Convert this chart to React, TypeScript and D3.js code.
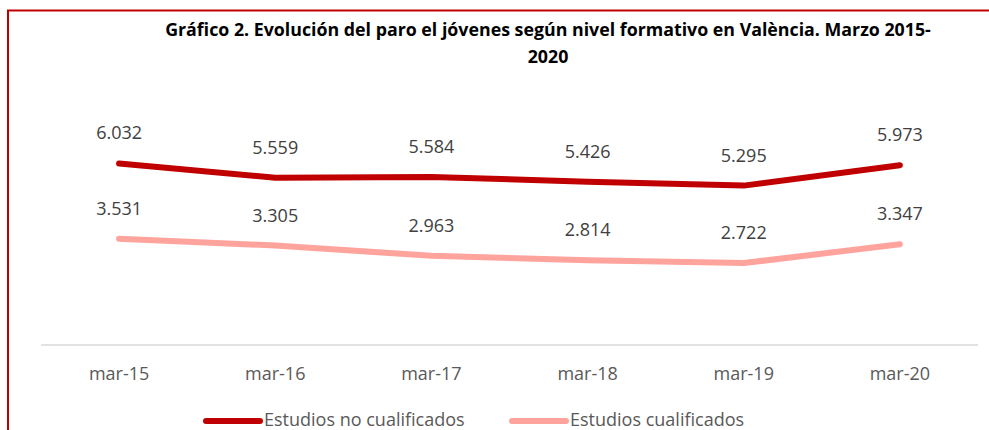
import React from "react";
import * as d3 from "d3";

const categories = ["mar-15", "mar-16", "mar-17", "mar-18", "mar-19", "mar-20"];
const noCualificados = [6032, 5559, 5584, 5426, 5295, 5973];
const cualificados = [3531, 3305, 2963, 2814, 2722, 3347];
const seriesNames = ["Estudios no cualificados", "Estudios cualificados"];
const titleLines = [
  "Gráfico 2. Evolución del paro el jóvenes según nivel formativo en València. Marzo 2015-",
  "2020",
];

const W = 989;
const H = 430;
const RED = "#C00000";
const PINK = "#FFA39D";
const FONT = "'Open Sans', sans-serif";

export default function App() {
  const x = d3.scaleBand<string>().domain(categories).range([41, 978]);
  const y = d3.scaleLinear().domain([0, 7000]).range([345, 134.3]);
  const cx = (c: string) => (x(c) as number) + x.bandwidth() / 2;
  const line = d3
    .line<number>()
    .x((_, i) => cx(categories[i]))
    .y((d) => y(d));

  const series = [
    { name: seriesNames[0], values: noCualificados, color: RED },
    { name: seriesNames[1], values: cualificados, color: PINK },
  ];
  const fmt = (v: number) => d3.format(",")(v).replace(/,/g, ".");

  const legendItems = [
    { x1: 206, x2: 260, tx: 264, color: RED, name: seriesNames[0] },
    { x1: 512, x2: 566, tx: 570, color: PINK, name: seriesNames[1] },
  ];

  return (
    <svg
      width={W}
      height={H}
      style={{ position: "absolute", left: 0, top: 0, background: "#fff" }}
    >
      <rect x={0} y={0} width={W} height={H} fill="#fff" />
      {/* border */}
      <line x1={7} x2={W} y1={10.5} y2={10.5} stroke={RED} strokeWidth={2} />
      <line x1={8} x2={8} y1={10} y2={H} stroke={RED} strokeWidth={2} />

      {/* title */}
      {titleLines.map((t, i) => (
        <text
          key={i}
          x={548}
          y={36 + i * 27}
          textAnchor="middle"
          fontFamily={FONT}
          fontWeight="bold"
          fontSize={17.8}
          fill="#000"
        >
          {t}
        </text>
      ))}

      {/* axis */}
      <line x1={41} x2={978} y1={y(0)} y2={y(0)} stroke="#D9D9D9" strokeWidth={1.5} />
      {categories.map((c) => (
        <text
          key={c}
          x={cx(c)}
          y={380}
          textAnchor="middle"
          fontFamily={FONT}
          fontSize={18}
          fill="#595959"
        >
          {c}
        </text>
      ))}

      {/* lines */}
      {series.map((s) => (
        <g key={s.name}>
          <path
            d={line(s.values) || ""}
            fill="none"
            stroke={s.color}
            strokeWidth={6}
            strokeLinecap="round"
            strokeLinejoin="round"
          />
          {s.values.map((v, i) => (
            <text
              key={i}
              x={cx(categories[i])}
              y={y(v) - 24}
              textAnchor="middle"
              fontFamily={FONT}
              fontSize={18}
              fill="#404040"
            >
              {fmt(v)}
            </text>
          ))}
        </g>
      ))}

      {/* legend */}
      {legendItems.map((l) => (
        <g key={l.name}>
          <line
            x1={l.x1}
            x2={l.x2}
            y1={421}
            y2={421}
            stroke={l.color}
            strokeWidth={6}
            strokeLinecap="round"
          />
          <text
            x={l.tx}
            y={426}
            fontFamily={FONT}
            fontSize={18}
            fill="#595959"
          >
            {l.name}
          </text>
        </g>
      ))}
    </svg>
  );
}
